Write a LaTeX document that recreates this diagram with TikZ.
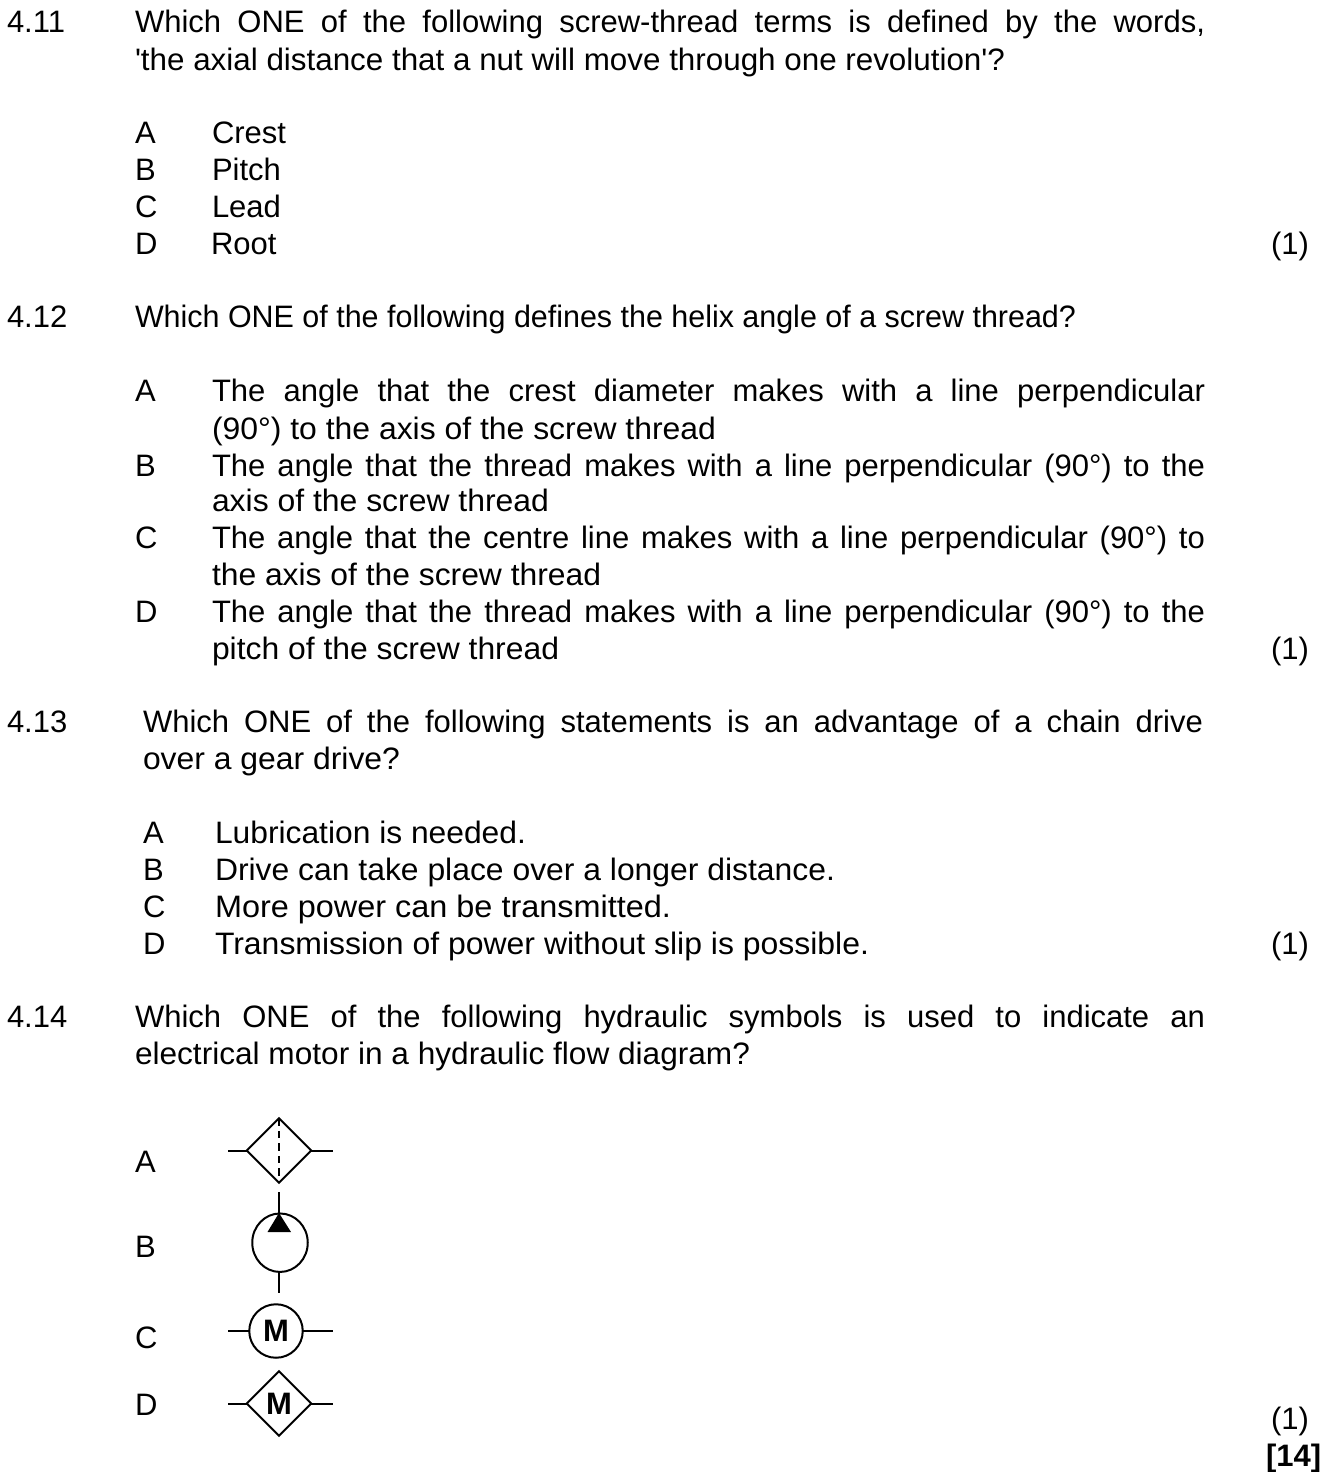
\documentclass[tikz,border=0pt]{standalone}
\usepackage{fontspec}
\usepackage{graphicx}
\newfontfamily\bodyfont{Liberation Sans}
\usetikzlibrary{shapes.geometric}
\tikzset{
  txt/.style={anchor=base west,inner sep=0pt,outer sep=0pt,yshift=-1.2pt,font=\bodyfont\fontsize{31}{37}\selectfont},
  ln/.style={line width=2pt,black},
  dia/.style={diamond,draw,line width=2pt,aspect=1,minimum width=64.5pt,minimum height=64.5pt,inner sep=0pt,outer sep=0pt},
  symb/.style={font=\bodyfont\fontsize{31}{36}\selectfont\bfseries}
}
\newcommand{\fitw}[2]{\resizebox{#1pt}{\height}{#2}}
\newcommand{\just}[2]{\makebox[#1pt][s]{#2}}
\begin{document}
\begin{tikzpicture}[x=1pt,y=-1pt]
\useasboundingbox (0,0) rectangle (1325,1472);
% 4.11
\node[txt] (q11) at (7,31) {4.11};
\node[txt] (q11a) at (135,31) {\just{1070}{Which ONE of the following screw-thread terms is defined by the words,}};
\node[txt] (q11b) at (135,69) {\fitw{870}{'the axial distance that a nut will move through one revolution'?}};
\node[txt] (o11a) at (135,142) {A};
\node[txt] (t11a) at (212,142) {Crest};
\node[txt] (o11b) at (135,179) {B};
\node[txt] (t11b) at (212,179) {Pitch};
\node[txt] (o11c) at (135,216) {C};
\node[txt] (t11c) at (212,216) {Lead};
\node[txt] (o11d) at (135,253) {D};
\node[txt] (t11d) at (211,253) {Root};
\node[txt] (m11) at (1271,253) {(1)};
% 4.12
\node[txt] (q12) at (7,326) {4.12};
\node[txt] (q12a) at (135,326) {\fitw{941}{Which ONE of the following defines the helix angle of a screw thread?}};
\node[txt] (o12a) at (135,400) {A};
\node[txt] (t12a) at (212,400) {\just{993}{The angle that the crest diameter makes with a line perpendicular}};
\node[txt] (t12a2) at (212,438) {\fitw{504}{(90°) to the axis of the screw thread}};
\node[txt] (o12b) at (135,475) {B};
\node[txt] (t12b) at (212,475) {\just{993}{The angle that the thread makes with a line perpendicular (90°) to the}};
\node[txt] (t12b2) at (212,510) {\fitw{337}{axis of the screw thread}};
\node[txt] (o12c) at (135,547) {C};
\node[txt] (t12c) at (212,547) {\just{993}{The angle that the centre line makes with a line perpendicular (90°) to}};
\node[txt] (t12c2) at (212,584) {\fitw{389}{the axis of the screw thread}};
\node[txt] (o12d) at (135,621) {D};
\node[txt] (t12d) at (212,621) {\just{993}{The angle that the thread makes with a line perpendicular (90°) to the}};
\node[txt] (t12d2) at (212,658) {\fitw{347}{pitch of the screw thread}};
\node[txt] (m12) at (1271,658) {(1)};
% 4.13
\node[txt] (q13) at (7,731) {4.13};
\node[txt] (q13a) at (143,731) {\just{1060}{Which ONE of the following statements is an advantage of a chain drive}};
\node[txt] (q13b) at (143,768) {\fitw{257}{over a gear drive?}};
\node[txt] (o13a) at (143,842) {A};
\node[txt] (t13a) at (215,842) {\fitw{311}{Lubrication is needed.}};
\node[txt] (o13b) at (143,879) {B};
\node[txt] (t13b) at (215,879) {\fitw{620}{Drive can take place over a longer distance.}};
\node[txt] (o13c) at (143,916) {C};
\node[txt] (t13c) at (215,916) {\fitw{456}{More power can be transmitted.}};
\node[txt] (o13d) at (143,953) {D};
\node[txt] (t13d) at (215,953) {\fitw{654}{Transmission of power without slip is possible.}};
\node[txt] (m13) at (1271,953) {(1)};
% 4.14
\node[txt] (q14) at (7,1026) {4.14};
\node[txt] (q14a) at (135,1026) {\just{1070}{Which ONE of the following hydraulic symbols is used to indicate an}};
\node[txt] (q14b) at (135,1063) {\fitw{615}{electrical motor in a hydraulic flow diagram?}};
\node[txt] (oa) at (135,1171) {A};
\node[txt] (ob) at (135,1256) {B};
\node[txt] (oc) at (135,1347) {C};
\node[txt] (od) at (135,1414) {D};
\node[txt] (m14) at (1271,1428.5) {(1)};
\node[txt,font=\bodyfont\fontsize{31}{37}\selectfont\bfseries] (tot) at (1266,1465.5) {[14]};
% Symbol A
\node[dia] (sa) at (279,1150.5) {};
\coordinate (sal) at (228,1150.5);
\coordinate (sar) at (332.7,1150.5);
\draw[ln] (sal) -- (sa.west);
\draw[ln] (sa.east) -- (sar);
\draw[ln,dash pattern=on 7.5pt off 5pt,shorten >=7pt] (sa.north) -- (sa.south);
% Symbol B
\node[ellipse,draw,line width=2pt,minimum width=55.5pt,minimum height=58.5pt,inner sep=0pt,outer sep=0pt] (sb) at (280,1242.7) {};
\coordinate (sbt) at (279,1192);
\coordinate (sbb) at (279,1293);
\coordinate (sbtip) at (279,1213);
\coordinate (sbbot) at (279,1272);
\draw[ln] (sbt) -- (sbtip);
\draw[ln] (sbbot) -- (sbb);
\fill (sbtip) -- (291,1232) -- (267.5,1232) -- cycle;
% Symbol C
\node[circle,draw,line width=2pt,minimum size=53.5pt,inner sep=0pt,outer sep=0pt,symb] (sc) at (276,1331) {M};
\coordinate (scl) at (228,1331);
\coordinate (scr) at (332.7,1331);
\draw[ln] (scl) -- (sc.west);
\draw[ln] (sc.east) -- (scr);
% Symbol D
\node[dia,symb] (sd) at (279,1403.5) {M};
\coordinate (sdl) at (228,1403.5);
\coordinate (sdr) at (332.7,1403.5);
\draw[ln] (sdl) -- (sd.west);
\draw[ln] (sd.east) -- (sdr);
\end{tikzpicture}
\end{document}
